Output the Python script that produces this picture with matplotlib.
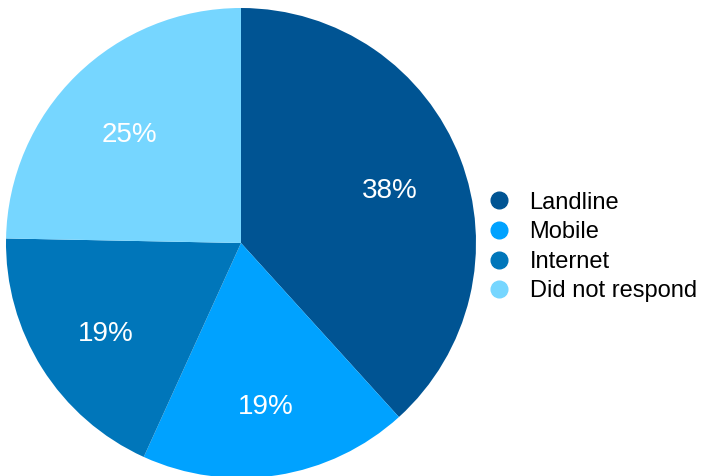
import matplotlib
matplotlib.use("Agg")
import matplotlib.pyplot as plt
from matplotlib.lines import Line2D

categories = ["Landline", "Mobile", "Internet", "Did not respond"]
responses = [62, 30, 30, 40]
colors = ["#005493", "#00A2FF", "#0076BA", "#76D6FF"]

plt.rcParams["font.family"] = ["Liberation Sans", "DejaVu Sans"]

W, H = 701, 476
fig = plt.figure(figsize=(W / 100, H / 100), dpi=100)
fig.patch.set_facecolor("white")

r_px = 235
cx, cy = 241, H - 243
ax = fig.add_axes([(cx - r_px) / W, (cy - r_px) / H, 2 * r_px / W, 2 * r_px / H])

wedges, texts, autotexts = ax.pie(
    responses,
    colors=colors,
    startangle=90,
    counterclock=False,
    radius=1,
    autopct="%.0f%%",
    pctdistance=0.68,
    wedgeprops=dict(linewidth=0),
    textprops=dict(color="white", fontsize=20),
)
# nudge the percentage labels slightly downward
for t in autotexts:
    x, y = t.get_position()
    t.set_position((x, y - 0.025))

ax.set_xlim(-1, 1)
ax.set_ylim(-1, 1)
ax.set_aspect("equal")
ax.axis("off")

handles = [
    Line2D([], [], linestyle="none", marker="o", markersize=12,
           markerfacecolor=c, markeredgecolor=c)
    for c in colors
]
fig.legend(
    handles, categories,
    loc="center left",
    bbox_to_anchor=(487 / W, 0.481),
    frameon=False,
    fontsize=17,
    handletextpad=0.8,
    handlelength=1.0,
    labelspacing=0.32,
    borderaxespad=0,
    borderpad=0,
)

fig.savefig("out.png", dpi=100)
